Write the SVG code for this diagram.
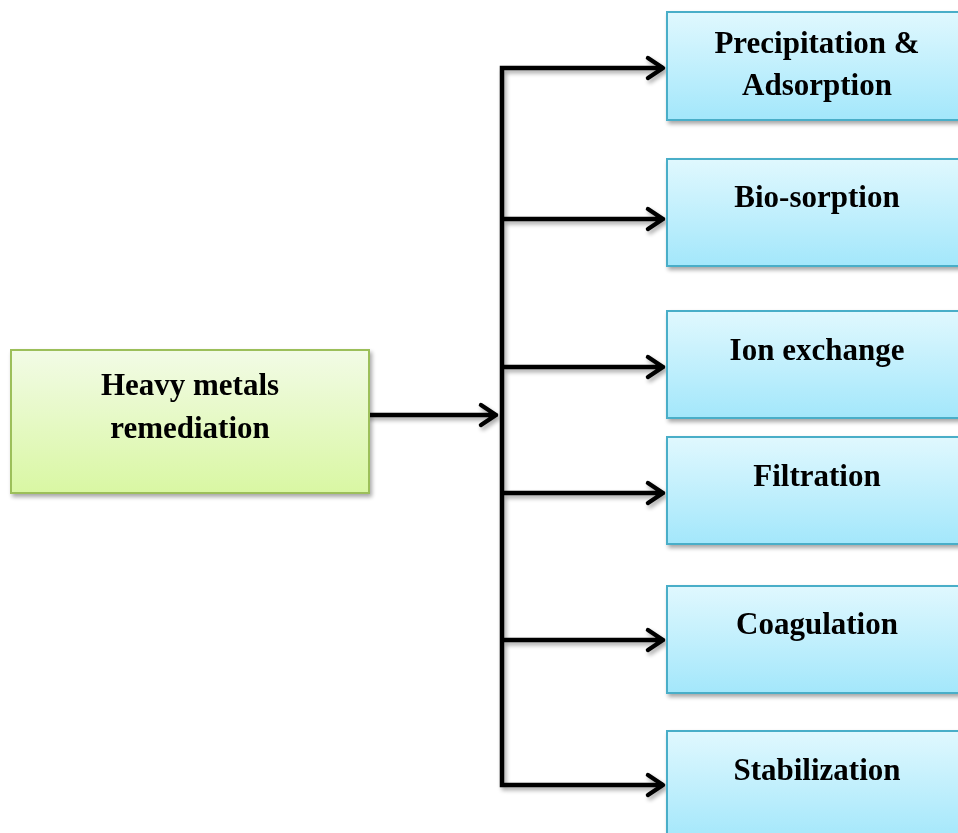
<svg xmlns="http://www.w3.org/2000/svg" width="958" height="833" viewBox="0 0 958 833">
<defs>
<linearGradient id="gBlue" x1="0" y1="0" x2="0" y2="1">
<stop offset="0" stop-color="#e0f8fe"/>
<stop offset="1" stop-color="#a3e7fb"/>
</linearGradient>
<linearGradient id="gGreen" x1="0" y1="0" x2="0" y2="1">
<stop offset="0" stop-color="#f2fbe6"/>
<stop offset="1" stop-color="#d9f7a3"/>
</linearGradient>
<filter id="sh" x="-10%" y="-10%" width="125%" height="130%">
<feGaussianBlur in="SourceAlpha" stdDeviation="2"/>
<feOffset dx="2" dy="3"/>
<feComponentTransfer><feFuncA type="linear" slope="0.35"/></feComponentTransfer>
<feMerge><feMergeNode/><feMergeNode in="SourceGraphic"/></feMerge>
</filter>
</defs>
<style>
.blue{fill:url(#gBlue);stroke:#4aaec8;stroke-width:2}
.green{fill:url(#gGreen);stroke:#9cbf5a;stroke-width:2}
.t{font-family:"Liberation Serif","Times New Roman",serif;font-weight:bold;font-size:31px;fill:#000;text-anchor:middle}
.c{fill:none;stroke:#000;stroke-width:4.5;stroke-linecap:round;stroke-linejoin:round}
.s{fill:none;stroke:#000;stroke-width:4.5;stroke-linecap:butt;stroke-linejoin:miter}
</style>
<g id="connectors" filter="url(#sh)">
<path class="s" d="M663,68 L502,68 L502,785 L663,785"/>
<path class="c" d="M369,415 L496,415 M481,405 L496,415 L481,425"/>
<path class="c" d="M648,58 L663,68 L648,78"/>
<path class="c" d="M504,219 L663,219 M648,209 L663,219 L648,229"/>
<path class="c" d="M504,367 L663,367 M648,357 L663,367 L648,377"/>
<path class="c" d="M504,493 L663,493 M648,483 L663,493 L648,503"/>
<path class="c" d="M504,640 L663,640 M648,630 L663,640 L648,650"/>
<path class="c" d="M648,775 L663,785 L648,795"/>
</g>
<g id="heavy-metals" filter="url(#sh)">
<rect class="green" x="11" y="350" width="358" height="143"/>
<text class="t" x="190" y="395">Heavy metals</text>
<text class="t" x="190" y="438">remediation</text>
</g>
<g id="precipitation" filter="url(#sh)">
<rect class="blue" x="667" y="12" width="300" height="108"/>
<text class="t" x="817" y="53">Precipitation &amp;</text>
<text class="t" x="817" y="95">Adsorption</text>
</g>
<g id="biosorption" filter="url(#sh)">
<rect class="blue" x="667" y="159" width="300" height="107"/>
<text class="t" x="817" y="207">Bio-sorption</text>
</g>
<g id="ion-exchange" filter="url(#sh)">
<rect class="blue" x="667" y="311" width="300" height="107"/>
<text class="t" x="817" y="360">Ion exchange</text>
</g>
<g id="filtration" filter="url(#sh)">
<rect class="blue" x="667" y="437" width="300" height="107"/>
<text class="t" x="817" y="486">Filtration</text>
</g>
<g id="coagulation" filter="url(#sh)">
<rect class="blue" x="667" y="586" width="300" height="107"/>
<text class="t" x="817" y="634">Coagulation</text>
</g>
<g id="stabilization" filter="url(#sh)">
<rect class="blue" x="667" y="731" width="300" height="110"/>
<text class="t" x="817" y="780">Stabilization</text>
</g>
</svg>
